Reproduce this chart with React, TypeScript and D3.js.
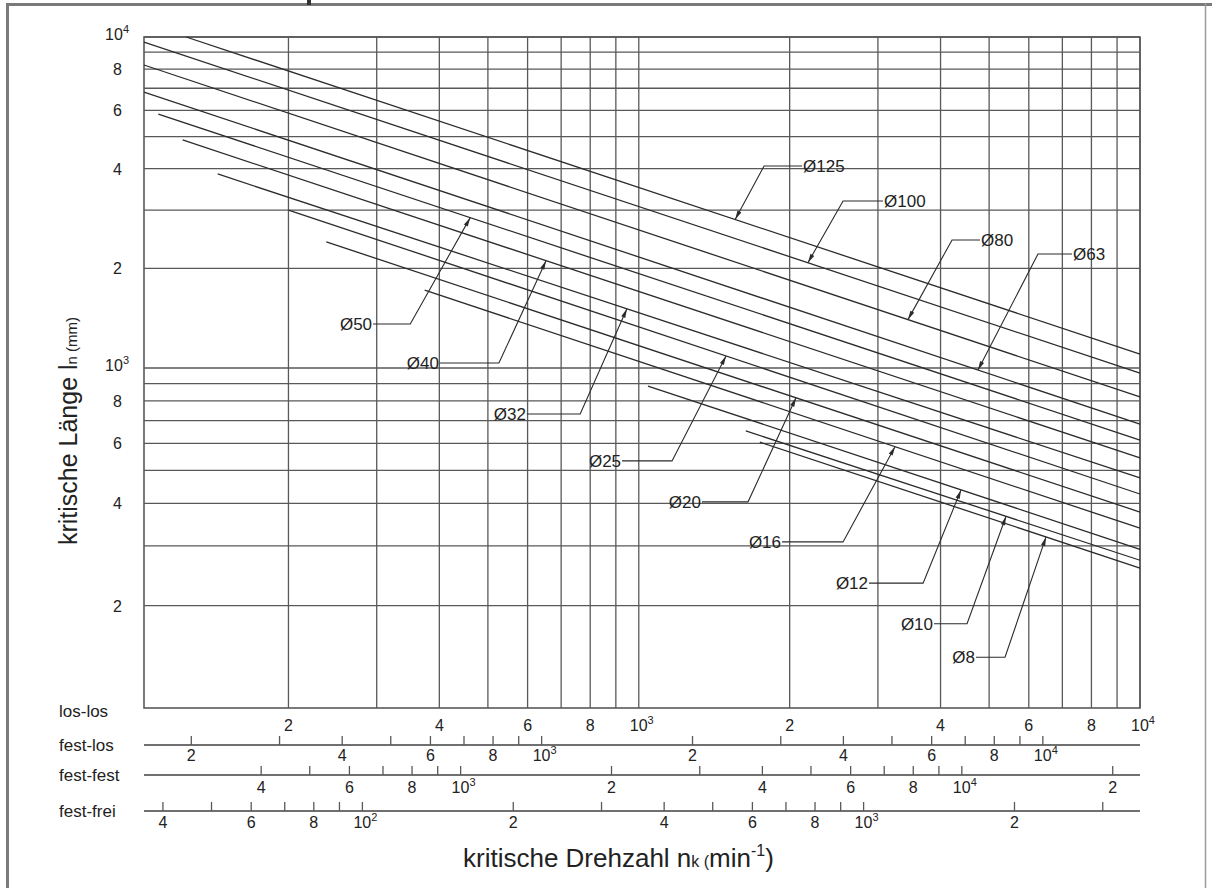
import React from 'react'
import { scaleLog, line } from 'd3'

const WIDTH = 1212
const HEIGHT = 888
const FONT = '"Liberation Sans", Arial, Helvetica, sans-serif'

// grid lines and labels (same decades on both axes)
const gridValues = [200, 300, 400, 500, 600, 700, 800, 900, 1000, 2000, 3000, 4000, 5000, 6000, 7000, 8000, 9000, 10000]
const labelValues = [200, 400, 600, 800, 1000, 2000, 4000, 6000, 8000, 10000]

// screw diameters, each line from (startN, startL) to (endN, endL)
const diameters = [125, 100, 80, 63, 50, 40, 32, 25, 20, 16, 12, 10, 8]
const startN = [125, 103, 103, 103, 110, 123, 144.5, 200, 238, 374, 1043, 1635, 1744]
const startL = [10000, 9650, 8230, 6820, 5850, 4885, 3856, 3000, 2404, 1719, 885, 653, 605]
const endN = [10000, 10000, 10000, 10000, 10000, 10000, 10000, 10000, 10000, 10000, 10000, 10000, 10000]
const endL = [1102, 966, 822, 684, 614, 544, 475, 426, 377, 338, 293, 272, 258]

// leader lines: arrow tip on the line, elbow, end of the text
const tipN = [1557, 2175, 3444, 4751, 461, 653, 947, 1493, 2059, 3245, 4395, 5404, 6494]
const elbowN = [1778, 2556, 4217, 6258, 350, 526, 764, 1165, 1652, 2556, 3692, 4518, 5379]
const elbowL = [4076, 3195, 2436, 2210, 1358, 1035, 732, 533, 404, 308, 233, 177, 141]
const textN = [2117, 3071, 4796, 7318, 295, 401, 598, 926, 1337, 1931, 2880, 3882, 4708]
const textSide = ['right', 'right', 'right', 'right', 'left', 'left', 'left', 'left', 'left', 'left', 'left', 'left', 'left']

// bearing cases below the chart
const mountings = ['los-los', 'fest-los', 'fest-fest', 'fest-frei']
const mountFactors = [1, 1.5625, 2.267, 0.356]
const festLosTicks = [200, 300, 400, 500, 600, 700, 800, 900, 1000, 2000, 3000, 4000, 5000, 6000, 7000, 8000, 9000, 10000]
const festLosLabels = [200, 400, 600, 800, 1000, 2000, 4000, 6000, 8000, 10000]
const festFestTicks = [400, 500, 600, 700, 800, 900, 1000, 2000, 3000, 4000, 5000, 6000, 7000, 8000, 9000, 10000, 20000]
const festFestLabels = [400, 600, 800, 1000, 2000, 4000, 6000, 8000, 10000, 20000]
const festFreiTicks = [40, 50, 60, 70, 80, 90, 100, 200, 300, 400, 500, 600, 700, 800, 900, 1000, 2000, 3000]
const festFreiLabels = [40, 60, 80, 100, 200, 400, 600, 800, 1000, 2000]

const mountTicks = [[], festLosTicks, festFestTicks, festFreiTicks]
const mountLabels = [labelValues, festLosLabels, festFestLabels, festFreiLabels]

// layout
const LEFT = 144
const RIGHT = 1140
const TOP = 37
const MID = 368
const BOTTOM = 708
const rowLineY = [708, 745, 775, 811]
const rowNameY = [717, 751, 781, 817]
const rowLabelY = [731, 761, 793, 828]

const xs = scaleLog().domain([103, 10000]).range([LEFT, RIGHT])
const ys = scaleLog().domain([100, 1000, 10000]).range([BOTTOM, MID, TOP])

const GRID = '#595959'
const INK = '#2b2b2b'

const splitValue = (v: number) => {
  const e = Math.log10(v)
  const r = Math.round(e)
  if (Math.abs(e - r) < 1e-9) return { power: true, text: '10', exp: String(r) }
  const digit = Math.round(v / Math.pow(10, Math.floor(e + 1e-9)))
  return { power: false, text: String(digit), exp: '' }
}

const XLabel = ({ x, y, value }: { x: number, y: number, value: number }) => {
  const p = splitValue(value)
  if (!p.power) {
    return <text x={x} y={y} textAnchor="middle">{p.text}</text>
  }
  return (
    <text x={x - 9} y={y} textAnchor="start">
      {p.text}<tspan dy={-7} fontSize={11}>{p.exp}</tspan>
    </text>
  )
}

const YLabel = ({ y, value }: { y: number, value: number }) => {
  const p = splitValue(value)
  if (!p.power) {
    return <text x={122} y={y + 6} textAnchor="end">{p.text}</text>
  }
  return (
    <text x={129} y={y + 3} textAnchor="end">
      {p.text}<tspan dy={-7} fontSize={11}>{p.exp}</tspan>
    </text>
  )
}

const Grid = () => (
  <g>
    {gridValues.map(v => (
      <line key={'h' + v} x1={LEFT} x2={RIGHT} y1={ys(v)} y2={ys(v)} stroke={GRID} strokeWidth={1.3} />
    ))}
    {gridValues.map(v => (
      <line key={'v' + v} x1={xs(v)} x2={xs(v)} y1={TOP} y2={BOTTOM} stroke={GRID} strokeWidth={1.3} />
    ))}
    <rect x={LEFT} y={TOP} width={RIGHT - LEFT} height={BOTTOM - TOP} fill="none" stroke={GRID} strokeWidth={1.6} />
  </g>
)

const DiameterLines = () => {
  const path = line<[number, number]>()
    .x(d => xs(d[0]))
    .y(d => ys(d[1]))
  return (
    <g>
      {diameters.map((d, i) => (
        <path key={d} d={path([[startN[i], startL[i]], [endN[i], endL[i]]]) || ''}
          fill="none" stroke={INK} strokeWidth={1.3} />
      ))}
    </g>
  )
}

const Leaders = () => (
  <g>
    {diameters.map((d, i) => {
      const x0 = xs(startN[i]), y0 = ys(startL[i])
      const x1 = xs(endN[i]), y1 = ys(endL[i])
      const tx = xs(tipN[i])
      const ty = y0 + (tx - x0) / (x1 - x0) * (y1 - y0)
      const ex = xs(elbowN[i]), ey = ys(elbowL[i])
      const lx = xs(textN[i])
      const len = Math.hypot(tx - ex, ty - ey)
      const ux = (tx - ex) / len, uy = (ty - ey) / len
      const bx = tx - ux * 9, by = ty - uy * 9
      const head = `M${tx},${ty}L${bx - uy * 2.2},${by + ux * 2.2}L${bx + uy * 2.2},${by - ux * 2.2}Z`
      const right = textSide[i] === 'right'
      return (
        <g key={d}>
          <path d={`M${lx},${ey}H${ex}L${tx},${ty}`} fill="none" stroke={INK} strokeWidth={1.1} />
          <path d={head} fill={INK} />
          <text x={right ? lx + 1 : lx - 1} y={ey + 6} textAnchor={right ? 'start' : 'end'} fontSize={17}>
            {'Ø' + d}
          </text>
        </g>
      )
    })}
  </g>
)

const MountAxes = () => (
  <g>
    {mountings.map((name, i) => {
      const s = scaleLog().domain([103 * mountFactors[i], 10000 * mountFactors[i]]).range([LEFT, RIGHT])
      return (
        <g key={name}>
          <text x={59} y={rowNameY[i]} fontSize={17}>{name}</text>
          {i > 0 && <line x1={LEFT} x2={RIGHT} y1={rowLineY[i]} y2={rowLineY[i]} stroke="#707070" strokeWidth={2} />}
          {mountTicks[i].map(v => (
            <line key={v} x1={s(v)} x2={s(v)} y1={rowLineY[i] - 9} y2={rowLineY[i]} stroke={GRID} strokeWidth={1.3} />
          ))}
          {mountLabels[i].map(v => (
            <XLabel key={v} x={s(v)} y={rowLabelY[i]} value={v} />
          ))}
        </g>
      )
    })}
  </g>
)

const App = () => {
  return (
    <svg width={WIDTH} height={HEIGHT} viewBox={`0 0 ${WIDTH} ${HEIGHT}`}
      style={{ position: 'absolute', left: 0, top: 0, background: 'white' }}
      fontFamily={FONT} fontSize={16} fill="#222">
      <rect x={0} y={0} width={WIDTH} height={HEIGHT} fill="white" />
      {/* page frame */}
      <line x1={7.5} x2={7.5} y1={3} y2={HEIGHT} stroke="#7a7a7a" strokeWidth={3} />
      <line x1={6} x2={WIDTH} y1={4.5} y2={4.5} stroke="#7a7a7a" strokeWidth={3} />
      <line x1={1205.5} x2={1205.5} y1={3} y2={HEIGHT} stroke="#9a9a9a" strokeWidth={1.5} />
      <rect x={307} y={0} width={4} height={5} fill="#333" />

      <Grid />
      <DiameterLines />
      <Leaders />

      {labelValues.map(v => <YLabel key={v} y={ys(v)} value={v} />)}
      <MountAxes />

      <text transform="translate(77, 431) rotate(-90)" textAnchor="middle" fontSize={25}>
        kritische Länge l<tspan fontSize={15}>n (mm)</tspan>
      </text>
      <text x={463} y={867} fontSize={26}>
        kritische Drehzahl n<tspan fontSize={16}>k (</tspan>min<tspan dy={-11} fontSize={16}>-1</tspan><tspan dy={11}>)</tspan>
      </text>
    </svg>
  )
}

export default App
